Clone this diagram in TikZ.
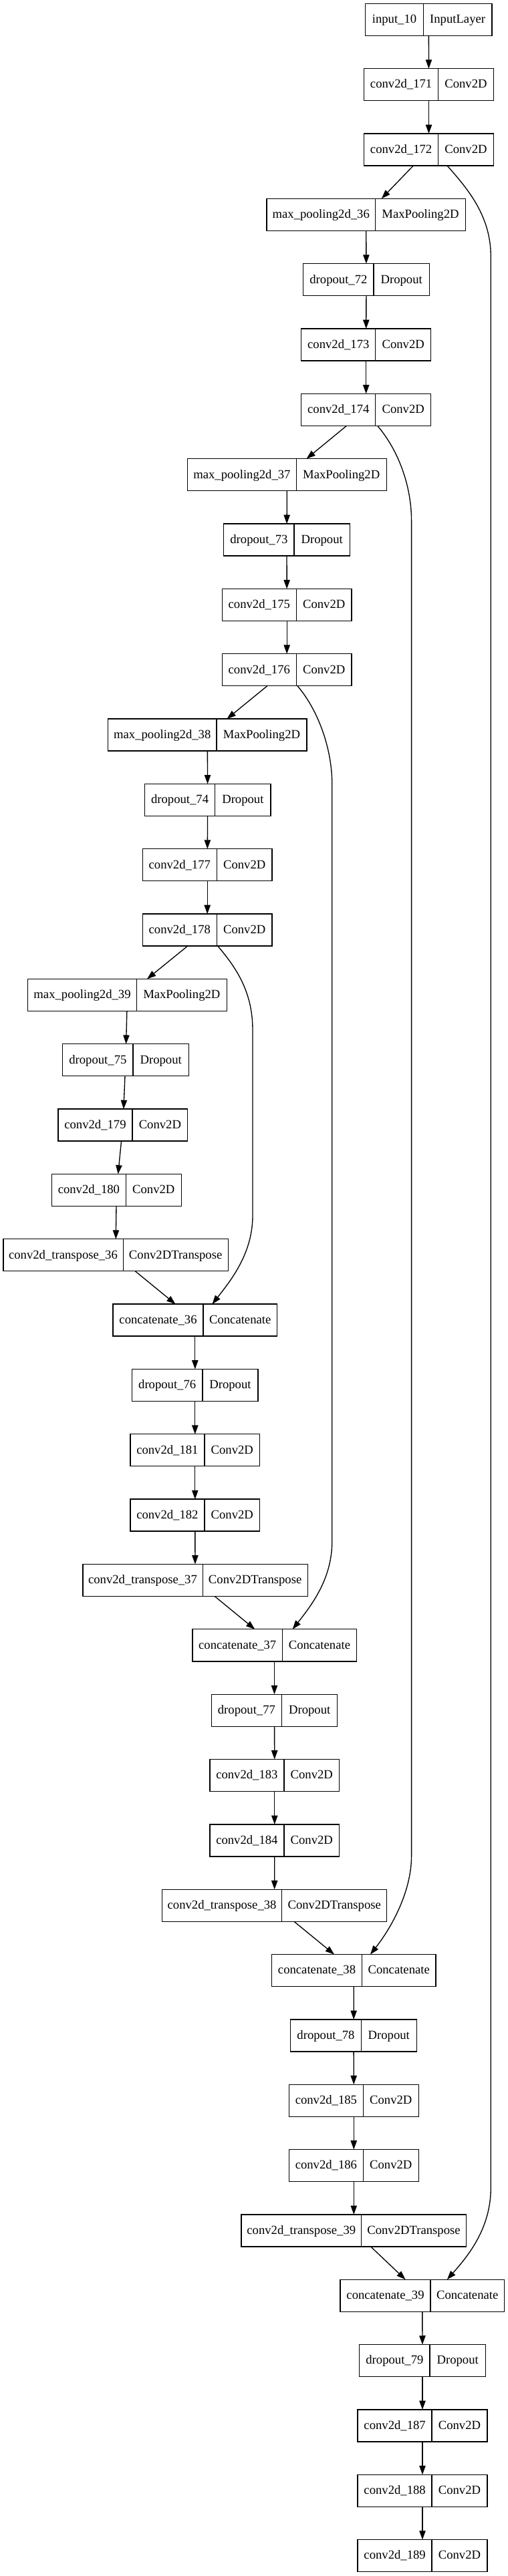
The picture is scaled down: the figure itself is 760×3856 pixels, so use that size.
\documentclass[tikz,border=0pt]{standalone}
\usepackage{fontspec}
\setmainfont{Liberation Serif}
\usetikzlibrary{arrows.meta,calc}
\tikzset{
  lay/.style={draw, line width=1pt, inner sep=0pt, outer sep=0pt, minimum height=36pt,
    text height=10pt, text depth=2pt, font=\fontsize{14pt}{16pt}\selectfont},
  cellline/.style={line width=1pt},
  arr/.style={line width=1pt, -{Triangle[length=10pt,width=7pt]}},
  skipline/.style={line width=1pt, -{Triangle[length=10pt,width=7pt]}},
}
% #1 name, #2 center x (px), #3 row, #4 left width, #5 right width, #6 left text, #7 right text
\newcommand\mylay[7]{%
  \node[lay] (#1) at (#2,{29.3+97.34*#3}) {\makebox[#4]{#6}\makebox[#5]{#7}};
  \draw[cellline] ([xshift=#4]#1.north west) -- ([xshift=#4]#1.south west);
}
\newcommand\cvA{83.25pt}\newcommand\cvB{62.1pt}
\newcommand\mpA{122pt}\newcommand\mpB{101.2pt}
\newcommand\doA{79.05pt}\newcommand\doB{62.4pt}
\newcommand\ctA{134.5pt}\newcommand\ctB{117.75pt}
\newcommand\caA{101.1pt}\newcommand\caB{82.9pt}
\begin{document}
\begin{tikzpicture}[x=0.75pt,y=-0.75pt]
\useasboundingbox (0,0) rectangle (760,3856);
\mylay{in10}{641.35}{0}{64.95pt}{77pt}{input\_10}{InputLayer}
\mylay{c171}{641.5}{1}{\cvA}{\cvB}{conv2d\_171}{Conv2D}
\mylay{c172}{641.5}{2}{\cvA}{\cvB}{conv2d\_172}{Conv2D}
\mylay{mp36}{547.7}{3}{\mpA}{\mpB}{max\_pooling2d\_36}{MaxPooling2D}
\mylay{do72}{548}{4}{\doA}{\doB}{dropout\_72}{Dropout}
\mylay{c173}{547.7}{5}{\cvA}{\cvB}{conv2d\_173}{Conv2D}
\mylay{c174}{547.7}{6}{\cvA}{\cvB}{conv2d\_174}{Conv2D}
\mylay{mp37}{429.4}{7}{\mpA}{\mpB}{max\_pooling2d\_37}{MaxPooling2D}
\mylay{do73}{429}{8}{\doA}{\doB}{dropout\_73}{Dropout}
\mylay{c175}{429.2}{9}{\cvA}{\cvB}{conv2d\_175}{Conv2D}
\mylay{c176}{429.2}{10}{\cvA}{\cvB}{conv2d\_176}{Conv2D}
\mylay{mp38}{310.2}{11}{\mpA}{\mpB}{max\_pooling2d\_38}{MaxPooling2D}
\mylay{do74}{310.7}{12}{\doA}{\doB}{dropout\_74}{Dropout}
\mylay{c177}{310.2}{13}{\cvA}{\cvB}{conv2d\_177}{Conv2D}
\mylay{c178}{310.2}{14}{\cvA}{\cvB}{conv2d\_178}{Conv2D}
\mylay{mp39}{190.5}{15}{\mpA}{\mpB}{max\_pooling2d\_39}{MaxPooling2D}
\mylay{do75}{188}{16}{\doA}{\doB}{dropout\_75}{Dropout}
\mylay{c179}{183.9}{17}{\cvA}{\cvB}{conv2d\_179}{Conv2D}
\mylay{c180}{174.3}{18}{\cvA}{\cvB}{conv2d\_180}{Conv2D}
\mylay{ct36}{173}{19}{\ctA}{\ctB}{conv2d\_transpose\_36}{Conv2DTranspose}
\mylay{ca36}{291.8}{20}{\caA}{\caB}{concatenate\_36}{Concatenate}
\mylay{do76}{291.8}{21}{\doA}{\doB}{dropout\_76}{Dropout}
\mylay{c181}{291.8}{22}{\cvA}{\cvB}{conv2d\_181}{Conv2D}
\mylay{c182}{291.8}{23}{\cvA}{\cvB}{conv2d\_182}{Conv2D}
\mylay{ct37}{292}{24}{\ctA}{\ctB}{conv2d\_transpose\_37}{Conv2DTranspose}
\mylay{ca37}{410.5}{25}{\caA}{\caB}{concatenate\_37}{Concatenate}
\mylay{do77}{410.5}{26}{\doA}{\doB}{dropout\_77}{Dropout}
\mylay{c183}{410.8}{27}{\cvA}{\cvB}{conv2d\_183}{Conv2D}
\mylay{c184}{410.8}{28}{\cvA}{\cvB}{conv2d\_184}{Conv2D}
\mylay{ct38}{410.6}{29}{\ctA}{\ctB}{conv2d\_transpose\_38}{Conv2DTranspose}
\mylay{ca38}{529.3}{30}{\caA}{\caB}{concatenate\_38}{Concatenate}
\mylay{do78}{529.1}{31}{\doA}{\doB}{dropout\_78}{Dropout}
\mylay{c185}{529.3}{32}{\cvA}{\cvB}{conv2d\_185}{Conv2D}
\mylay{c186}{529.3}{33}{\cvA}{\cvB}{conv2d\_186}{Conv2D}
\mylay{ct39}{529.3}{34}{\ctA}{\ctB}{conv2d\_transpose\_39}{Conv2DTranspose}
\mylay{ca39}{631.8}{35}{\caA}{\caB}{concatenate\_39}{Concatenate}
\mylay{do79}{632}{36}{\doA}{\doB}{dropout\_79}{Dropout}
\mylay{c187}{632}{37}{\cvA}{\cvB}{conv2d\_187}{Conv2D}
\mylay{c188}{632}{38}{\cvA}{\cvB}{conv2d\_188}{Conv2D}
\mylay{c189}{632}{39}{\cvA}{\cvB}{conv2d\_189}{Conv2D}
% main chain
\foreach \a/\b in {in10/c171,c171/c172,c172/mp36,mp36/do72,do72/c173,c173/c174,c174/mp37,
  mp37/do73,do73/c175,c175/c176,c176/mp38,mp38/do74,do74/c177,c177/c178,c178/mp39,
  mp39/do75,do75/c179,c179/c180,c180/ct36,ct36/ca36,ca36/do76,do76/c181,c181/c182,
  c182/ct37,ct37/ca37,ca37/do77,do77/c183,c183/c184,c184/ct38,ct38/ca38,ca38/do78,
  do78/c185,c185/c186,c186/ct39,ct39/ca39,ca39/do79,do79/c187,c187/c188,c188/c189}
  {\draw[arr] (\a) -- (\b);}
% skip connections
\coordinate (s1) at ($(c172.south)+(27.5,0)$);
\coordinate (k1a) at (734.3,384);
\coordinate (k1b) at (734.3,3275);
\coordinate (e1) at ($(ca39.north)+(37.1,0)$);
\draw[skipline] (s1) .. controls ($(s1)+(32,36)$) and ($(k1a)+(0,-60)$) .. (k1a) -- (k1b)
  .. controls ($(k1b)+(0,60)$) and ($(e1)+(32,-36)$) .. (e1);
\coordinate (s2) at ($(c174.south)+(17,0)$);
\coordinate (k2a) at (615.6,780);
\coordinate (k2b) at (615.6,2778);
\coordinate (e2) at ($(ca38.north)+(24.7,0)$);
\draw[skipline] (s2) .. controls ($(s2)+(30,35)$) and ($(k2a)+(0,-55)$) .. (k2a) -- (k2b)
  .. controls ($(k2b)+(0,55)$) and ($(e2)+(30,-38)$) .. (e2);
\coordinate (s3) at ($(c176.south)+(15.8,0)$);
\coordinate (k3a) at (496.8,1174);
\coordinate (k3b) at (496.8,2307);
\coordinate (e3) at ($(ca37.north)+(27.2,0)$);
\draw[skipline] (s3) .. controls ($(s3)+(30,35)$) and ($(k3a)+(0,-55)$) .. (k3a) -- (k3b)
  .. controls ($(k3b)+(0,55)$) and ($(e3)+(30,-38)$) .. (e3);
\coordinate (s4) at ($(c178.south)+(15.5,0)$);
\coordinate (k4a) at (378,1542);
\coordinate (k4b) at (378,1819.5);
\coordinate (e4) at ($(ca36.north)+(25.7,0)$);
\draw[skipline] (s4) .. controls ($(s4)+(30,35)$) and ($(k4a)+(0,-55)$) .. (k4a) -- (k4b)
  .. controls ($(k4b)+(0,55)$) and ($(e4)+(30,-38)$) .. (e4);
\end{tikzpicture}
\end{document}
